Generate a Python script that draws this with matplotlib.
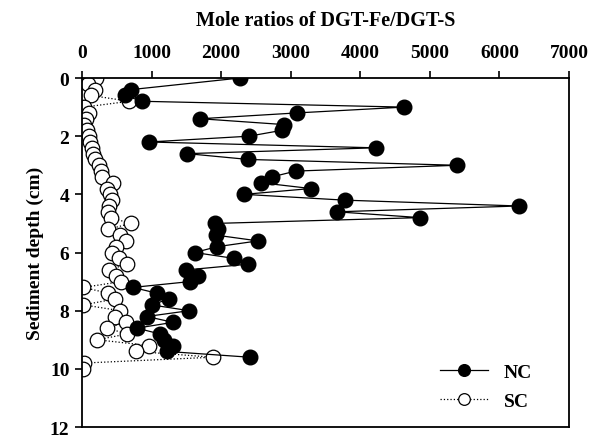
import matplotlib
matplotlib.use("Agg")
import matplotlib.pyplot as plt
import numpy as np

plt.rcParams["font.family"] = ["Liberation Serif", "DejaVu Serif"]
plt.rcParams["font.weight"] = "bold"

# NC profile (depth in cm, Fe/S mole ratio)
nc_depth = [0.0, 0.4, 0.6, 0.8, 1.0, 1.2, 1.4, 1.6, 1.8, 2.0, 2.2, 2.4, 2.6, 2.8,
            3.0, 3.2, 3.4, 3.6, 3.8, 4.0, 4.2, 4.4, 4.6, 4.8, 5.0, 5.2, 5.4, 5.6,
            5.8, 6.0, 6.2, 6.4, 6.6, 6.8, 7.0, 7.2, 7.4, 7.6, 7.8, 8.0, 8.2, 8.4,
            8.6, 8.8, 9.0, 9.2, 9.4, 9.6]
nc_ratio = [2270, 700, 620, 860, 4630, 3090, 1700, 2900, 2870, 2400, 960, 4220,
            1510, 2390, 5390, 3070, 2730, 2570, 3290, 2330, 3780, 6280, 3660, 4860,
            1910, 1950, 1920, 2530, 1940, 1620, 2180, 2390, 1490, 1670, 1550, 730,
            1080, 1250, 1000, 1540, 930, 1310, 790, 1120, 1180, 1310, 1220, 2410]

# SC profile
sc_depth = [0.0, 0.2, 0.4, 0.6, 0.8, 1.0, 1.2, 1.4, 1.6, 1.8, 2.0, 2.2, 2.4, 2.6,
            2.8, 3.0, 3.2, 3.4, 3.6, 3.8, 4.0, 4.2, 4.4, 4.6, 4.8, 5.0, 5.2, 5.4,
            5.6, 5.8, 6.0, 6.2, 6.4, 6.6, 6.8, 7.0, 7.2, 7.4, 7.6, 7.8, 8.0, 8.2,
            8.4, 8.6, 8.8, 9.0, 9.2, 9.4, 9.6, 9.8, 10.0]
sc_ratio = [200, 90, 190, 130, 680, 30, 100, 60, 30, 70, 100, 115, 140, 160,
            190, 240, 280, 290, 440, 360, 400, 430, 390, 380, 410, 700, 380, 550,
            630, 490, 430, 530, 640, 390, 490, 560, 20, 380, 470, 20, 550, 470,
            630, 360, 650, 220, 960, 780, 1880, 30, 20]

xticks = [0, 1000, 2000, 3000, 4000, 5000, 6000, 7000]
yticks = [0, 2, 4, 6, 8, 10, 12]

fig = plt.figure(figsize=(5.94, 4.39), dpi=100)
ax = fig.add_axes([0.138, 0.025, 0.820, 0.795])

ax.plot(sc_ratio, sc_depth, ls=":", color="black", lw=0.9, marker="o",
        markersize=10.5, markerfacecolor="white", markeredgecolor="black",
        markeredgewidth=0.9, label="SC", zorder=2)
ax.plot(nc_ratio, nc_depth, ls="-", color="black", lw=0.9, marker="o",
        markersize=10.5, markerfacecolor="black", markeredgecolor="black",
        label="NC", zorder=3)

ax.set_xlim(0, 7000)
ax.set_ylim(12, 0)
ax.set_xticks(xticks)
ax.set_yticks(yticks)
ax.xaxis.tick_top()
ax.xaxis.set_label_position("top")
ax.tick_params(axis="both", direction="out", length=5, width=1.2,
               labelsize=14, pad=4)
ax.tick_params(axis="x", pad=7)
ax.set_xlabel("Mole ratios of DGT-Fe/DGT-S", fontsize=14.5, fontweight="bold",
              labelpad=14)
ax.set_ylabel("Sediment depth (cm)", fontsize=14, fontweight="bold",
              labelpad=4)
for s in ax.spines.values():
    s.set_linewidth(1.3)

handles, labels = ax.get_legend_handles_labels()
leg = ax.legend(handles[::-1], labels[::-1], loc="lower right",
                bbox_to_anchor=(0.96, 0.0), frameon=False, fontsize=14,
                markerscale=0.8, handlelength=2.5, labelspacing=0.55)

fig.savefig("out.png", dpi=100)
